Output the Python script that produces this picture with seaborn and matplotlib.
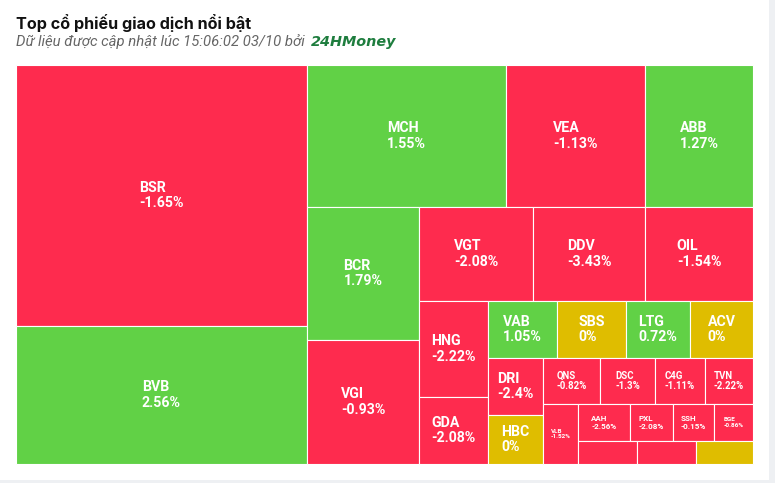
import matplotlib
matplotlib.use("Agg")
import matplotlib.pyplot as plt
import seaborn as sns

# top traded stocks (value = traded value, relative units; change in %)
ma_cp = ["BSR", "BVB", "MCH", "VEA", "ABB", "BCR", "VGI", "VGT", "DDV", "OIL",
         "HNG", "GDA", "VAB", "SBS", "LTG", "ACV", "DRI", "HBC", "QNS", "DSC",
         "C4G", "TVN", "VLB", "AAH", "PXL", "SSH", "BGE", "", "", ""]
gia_tri = [75951, 40158, 28258, 19738, 15336, 14896, 13888, 10716, 10528, 10152,
           6624, 4623, 3933, 3933, 3648, 3591, 3135, 2695, 2622, 2530,
           2300, 2208, 2100, 1924, 1591, 1517, 1443, 1357, 1357, 1311]
thay_doi = [-1.65, 2.56, 1.55, -1.13, 1.27, 1.79, -0.93, -2.08, -3.43, -1.54,
            -2.22, -2.08, 1.05, 0, 0.72, 0, -2.4, 0, -0.82, -1.3,
            -1.11, -2.22, -1.52, -2.56, -2.08, -0.15, -0.86, -1.0, -1.0, 0]

RED = "#FE2B4E"
GREEN = "#61D146"
YELLOW = "#DFBD00"


class Group:
    # strip group, alternating direction (low aspect ratio squarify)
    def __init__(self, h, w, d):
        self.height, self.width, self.direction = h, w, d
        self.total = 0
        self.nW = self.lW = self.nH = self.lH = 0
        self.els = []
        self.lR = self.nR = None

    def add(self, el):
        prev = self.els[-1] if self.els else None
        self.total += el
        ratio = lambda a, b: max(a / b, b / a)
        if self.direction == 0:
            self.lW = self.nW
            self.nW = self.total / self.height
            if prev is None:
                self.lR = self.nR = None
            else:
                self.lR = ratio(self.lW, prev / self.lW)
                self.nR = ratio(self.nW, prev / self.nW)
        else:
            self.lH = self.nH
            self.nH = self.total / self.width
            if prev is None:
                self.lR = self.nR = None
            else:
                self.lR = ratio(prev / self.lH, self.lH)
                self.nR = ratio(prev / self.nH, self.nH)
        self.els.append(el)

    def worse(self):
        return self.lR is not None and self.nR > self.lR


def treemap(values, x0, y0, w, h):
    tot = sum(values)
    rects = []
    g = Group(h, w, 0)
    pos = [x0, y0]

    def calc(last):
        gW, gH = (g.nW, g.nH) if last else (g.lW, g.lH)
        els = g.els if last else g.els[:-1]
        keep = None if last else g.els[-1]
        for p in els:
            if g.direction == 0:
                rects.append((pos[0], pos[1], gW, p / gW))
                pos[1] += p / gW
            else:
                rects.append((pos[0], pos[1], p / gH, gH))
                pos[0] += p / gH
        g.total = 0
        g.nW = g.lW = 0
        g.els = []
        if g.direction == 0:
            g.width -= gW
        else:
            g.height -= gH
        pos[1] = y0 + (h - g.height)
        pos[0] = x0 + (w - g.width)
        g.direction = 1 - g.direction
        if not last:
            g.add(keep)

    for i, v in enumerate(values):
        g.add(w * h * v / tot)
        if g.worse():
            calc(False)
        if i == len(values) - 1:
            calc(True)
    return rects


def fit_width(t, target_px):
    # scale a text's font so it spans target_px pixels
    r = fig.canvas.get_renderer()
    wpx = t.get_window_extent(r).width
    t.set_fontsize(t.get_fontsize() * target_px / wpx)


sns.set_theme(style="white")
plt.rcParams["font.family"] = ["Roboto", "DejaVu Sans"]

fig = plt.figure(figsize=(7.75, 4.83), dpi=100)
ax = fig.add_axes([0, 0, 1, 1])
ax.set_xlim(0, 775)
ax.set_ylim(483, 0)
ax.axis("off")

rects = treemap(gia_tri, 16, 65, 737, 399)
colors = [GREEN if c > 0 else (RED if c < 0 else YELLOW) for c in thay_doi]
ax.bar([r[0] for r in rects], [r[3] for r in rects], width=[r[2] for r in rects],
       bottom=[r[1] for r in rects], align="edge", color=colors,
       edgecolor="white", linewidth=0.8)

for (x, y, w, h), name, chg in zip(rects, ma_cp, thay_doi):
    if not name or h < 30:
        continue
    if w >= 50 and h >= 47:
        fs = 10.2
    elif w >= 44 and h >= 44:
        fs = 6.9
    elif w >= 40:
        fs = 5.8
    else:
        fs = 4.6
    ax.text(x + w / 2, y + h / 2, f"{name}\n{chg:g}%", ha="center", va="center",
            multialignment="left", color="white", fontsize=fs, fontweight="bold",
            linespacing=1.12)

# header
title = ax.text(16, 29, "Top cổ phiếu giao dịch nổi bật", fontsize=10.3,
                fontweight="bold", color="#111111",
                family=["Inter", "Roboto", "DejaVu Sans"], va="baseline")
sub = ax.text(16, 46, "Dữ liệu được cập nhật lúc 15:06:02 03/10 bởi", fontsize=9.6,
              style="italic", color="#666666", va="baseline")
brand = ax.text(311, 46, "24HMoney", fontsize=10, style="italic", fontweight="bold",
                color="#1E7D3E", family=["DejaVu Sans"], va="baseline")
fit_width(title, 236)
fit_width(sub, 288)
fit_width(brand, 85)

# page frame strips
ax.bar([769], [483], width=6, bottom=0, align="edge", color="#EEF0F3", linewidth=0)
ax.bar([0], [3], width=769, bottom=480, align="edge", color="#EEF0F3", linewidth=0)

fig.savefig("out.png", dpi=100)
